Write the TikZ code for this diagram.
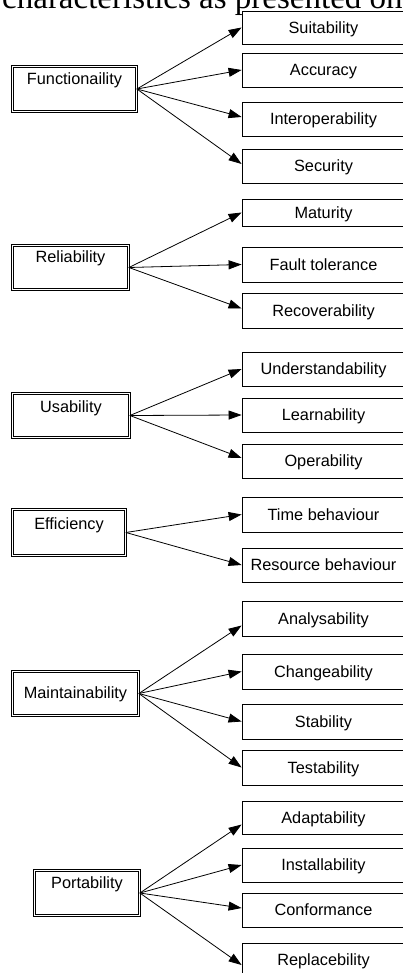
\documentclass[tikz,border=0pt]{standalone}
\usepackage{fontspec}
\setmainfont{Liberation Sans}
\newfontfamily\serifhead{Liberation Serif}
\usetikzlibrary{arrows.meta}
\tikzset{
  parentbox/.style={draw, double, double distance=1.3pt, line width=0.75pt, inner sep=0pt, align=center, font=\fontsize{16.3}{19}\selectfont},
  childbox/.style={draw, line width=0.8pt, inner sep=0pt, minimum width=163pt, text height=11.7pt, text depth=0pt, font=\fontsize{16.3}{19}\selectfont},
  conn/.style={line width=0.8pt, -{Triangle[length=13pt,width=9pt]}}
}
\begin{document}
\begin{tikzpicture}[x=1pt,y=-1pt]
\useasboundingbox (0,0) rectangle (403,973);
\node[anchor=base west, inner sep=0pt, font=\serifhead\fontsize{33}{38}\selectfont] (head) at (2,9) {characteristics as presented on};

% parents
\node[parentbox, minimum width=124pt, minimum height=45pt, text height=18.5pt, text depth=26.5pt] (fun) at (74.5,89) {Functionaility};
\node[parentbox, minimum width=116pt, minimum height=44pt, text height=17.5pt, text depth=26.5pt] (rel) at (70.5,267.5) {Reliability};
\node[parentbox, minimum width=117pt, minimum height=44pt, text height=18.5pt, text depth=25.5pt] (usa) at (71,415.5) {Usability};
\node[parentbox, minimum width=113pt, minimum height=46pt, text height=19.5pt, text depth=26.5pt] (eff) at (69,532.5) {Efficiency};
\node[parentbox, minimum width=126pt, minimum height=44pt, text height=26.5pt, text depth=17.5pt] (mai) at (75.5,693.5) {Maintainability};
\node[parentbox, minimum width=105pt, minimum height=45pt, text height=17.5pt, text depth=27.5pt] (por) at (87,893) {Portability};

% children
\node[childbox, minimum height=33pt] (sui) at (323.5,27.5) {Suitability};
\node[childbox, minimum height=34pt] (acc) at (323.5,70) {Accuracy};
\node[childbox, minimum height=34pt] (int) at (323.5,119) {Interoperability};
\node[childbox, minimum height=34pt] (sec) at (323.5,166) {Security};

\node[childbox, minimum height=27pt] (mat) at (323.5,212.5) {Maturity};
\node[childbox, minimum height=35pt] (fau) at (323.5,264.5) {Fault tolerance};
\node[childbox, minimum height=35pt] (rec) at (323.5,310.5) {Recoverability};

\node[childbox, minimum height=34pt] (und) at (323.5,369) {Understandability};
\node[childbox, minimum height=34pt] (lea) at (323.5,415) {Learnability};
\node[childbox, minimum height=34pt] (ope) at (323.5,461) {Operability};

\node[childbox, minimum height=35pt] (tim) at (323.5,514.5) {Time behaviour};
\node[childbox, minimum height=34pt] (res) at (323.5,565) {Resource behaviour};

\node[childbox, minimum height=35pt] (ana) at (323.5,618.5) {Analysability};
\node[childbox, minimum height=35pt] (cha) at (323.5,671.5) {Changeability};
\node[childbox, minimum height=35pt] (sta) at (323.5,721.5) {Stability};
\node[childbox, minimum height=35pt] (tes) at (323.5,767.5) {Testability};

\node[childbox, minimum height=33pt] (ada) at (323.5,817.5) {Adaptability};
\node[childbox, minimum height=34pt] (ins) at (323.5,865) {Installability};
\node[childbox, minimum height=34pt] (con) at (323.5,910) {Conformance};
\node[childbox, minimum height=34pt] (rep) at (323.5,960) {Replacebility};

% connectors
\draw[conn] (fun.east) -- (sui.west);
\draw[conn] (fun.east) -- (acc.west);
\draw[conn] (fun.east) -- ([yshift=2pt]int.west);
\draw[conn] (fun.east) -- ([yshift=2pt]sec.west);

\draw[conn] (rel.east) -- (mat.west);
\draw[conn] (rel.east) -- (fau.west);
\draw[conn] (rel.east) -- ([yshift=2pt]rec.west);

\draw[conn] (usa.east) -- (und.west);
\draw[conn] (usa.east) -- (lea.west);
\draw[conn] (usa.east) -- ([yshift=3pt]ope.west);

\draw[conn] (eff.east) -- (tim.west);
\draw[conn] (eff.east) -- (res.west);

\draw[conn] (mai.east) -- ([yshift=-7pt]ana.west);
\draw[conn] (mai.east) -- (cha.west);
\draw[conn] (mai.east) -- (sta.west);
\draw[conn] (mai.east) -- (tes.west);

\draw[conn] (por.east) -- ([yshift=-7pt]ada.west);
\draw[conn] (por.east) -- (ins.west);
\draw[conn] (por.east) -- ([yshift=2pt]con.west);
\draw[conn] (por.east) -- ([yshift=-5pt]rep.west);
\end{tikzpicture}
\end{document}
